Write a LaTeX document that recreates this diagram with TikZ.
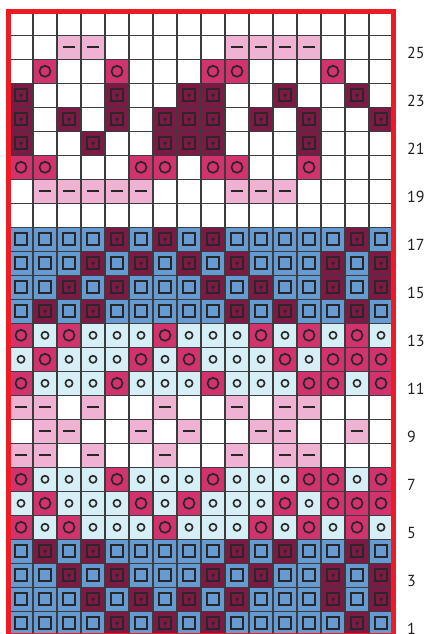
\documentclass[tikz,border=0pt]{standalone}
\usepackage{fontspec}
\setmainfont{PT Sans}
\usepackage{xcolor}
\usepackage{tikz}
\definecolor{redc}{HTML}{ED1C24}
\definecolor{pinkc}{HTML}{F0B2D2}
\definecolor{magc}{HTML}{D2336E}
\definecolor{marc}{HTML}{7C1A45}
\definecolor{bluec}{HTML}{659BD2}
\definecolor{lbluc}{HTML}{D6EEF6}
\definecolor{symc}{HTML}{2B2728}
\definecolor{gridc}{HTML}{3C3C3C}
\definecolor{labc}{HTML}{231F20}
\tikzset{
  sym/.style={draw=symc,line width=1.7pt},
  cW/.pic={},
  cP/.pic={\fill[pinkc] (0,0) rectangle (1,1); \draw[sym,line width=1.6pt] (0.27,0.5)--(0.73,0.5);},
  cO/.pic={\fill[magc] (0,0) rectangle (1,1); \draw[sym] (0.5,0.5) circle (0.23);},
  cL/.pic={\fill[lbluc] (0,0) rectangle (1,1); \draw[sym,line width=1.6pt] (0.5,0.5) circle (0.15);},
  cB/.pic={\fill[bluec] (0,0) rectangle (1,1); \draw[sym,line width=2pt] (0.25,0.25) rectangle (0.75,0.75);},
  cD/.pic={\fill[marc] (0,0) rectangle (1,1); \draw[sym,line width=2pt] (0.25,0.25) rectangle (0.75,0.75); \fill[symc] (0.5,0.5) circle (0.075);},
  lab/.style={anchor=west,inner sep=0pt,font=\fontsize{16}{16}\selectfont,text=labc}
}
\begin{document}
\begin{tikzpicture}[x=24pt,y=24pt]
\useasboundingbox (-0.375,0.054) rectangle (17.458,26.47);
\fill[white] (-0.375,0.054) rectangle (17.458,26.47);
% chart rows, top to bottom
\foreach \r/\cells in {
  26/{W,W,W,W,W,W,W,W,W,W,W,W,W,W,W,W},
  25/{W,W,P,P,W,W,W,W,W,P,P,P,P,W,W,W},
  24/{W,O,W,W,O,W,W,W,O,O,W,W,W,O,W,W},
  23/{D,W,W,W,D,W,W,D,D,W,W,D,W,W,D,W},
  22/{D,W,D,W,D,W,D,D,D,W,D,W,D,W,W,D},
  21/{D,W,W,D,W,W,D,D,D,W,W,W,D,W,W,W},
  20/{O,O,W,W,W,O,O,W,O,O,W,W,O,W,W,W},
  19/{W,P,P,P,P,P,W,W,W,P,P,P,W,W,W,W},
  18/{W,W,W,W,W,W,W,W,W,W,W,W,W,W,W,W},
  17/{B,B,B,B,D,B,D,B,D,B,B,B,B,B,D,B},
  16/{B,B,B,D,B,D,B,D,B,D,B,B,B,D,B,D},
  15/{B,B,D,B,D,B,B,B,D,B,D,B,B,D,B,D},
  14/{B,D,B,D,B,B,B,B,B,D,B,D,B,B,D,B},
  13/{O,L,O,L,L,L,O,L,L,L,O,L,O,L,O,L},
  12/{L,O,L,L,L,O,L,O,L,L,L,O,L,O,O,O},
  11/{O,L,L,L,O,L,L,L,O,L,L,L,O,O,L,O},
  10/{P,P,W,P,W,W,P,W,W,P,W,P,P,W,W,W},
  9/{W,P,P,W,W,P,W,P,W,W,P,P,W,W,P,W},
  8/{P,P,W,P,W,W,P,W,W,P,W,P,P,W,W,W},
  7/{O,L,L,L,O,L,L,L,O,L,L,L,O,O,L,O},
  6/{L,O,L,L,L,O,L,O,L,L,L,O,L,O,O,O},
  5/{O,L,O,L,L,L,O,L,L,L,O,L,O,L,O,L},
  4/{B,D,B,D,B,B,B,B,B,D,B,D,B,B,D,B},
  3/{B,B,D,B,D,B,B,B,D,B,D,B,B,D,B,D},
  2/{B,B,B,D,B,D,B,D,B,D,B,B,B,D,B,D},
  1/{B,B,B,B,D,B,D,B,D,B,B,B,B,B,D,B}}{
  \foreach \t [count=\i from 0] in \cells
    \pic at (\i,\r-1) {c\t};
}
\draw[gridc,line width=1.2pt,xstep=1,ystep=1] (0,0) grid (16,26);
\draw[redc,line width=5pt] (0,0) rectangle (16,26);
% row numbers
\foreach \n in {1,3,...,25}
  \node[lab] (lab\n) at (16.58,\n-0.73) {\n};
\end{tikzpicture}
\end{document}
